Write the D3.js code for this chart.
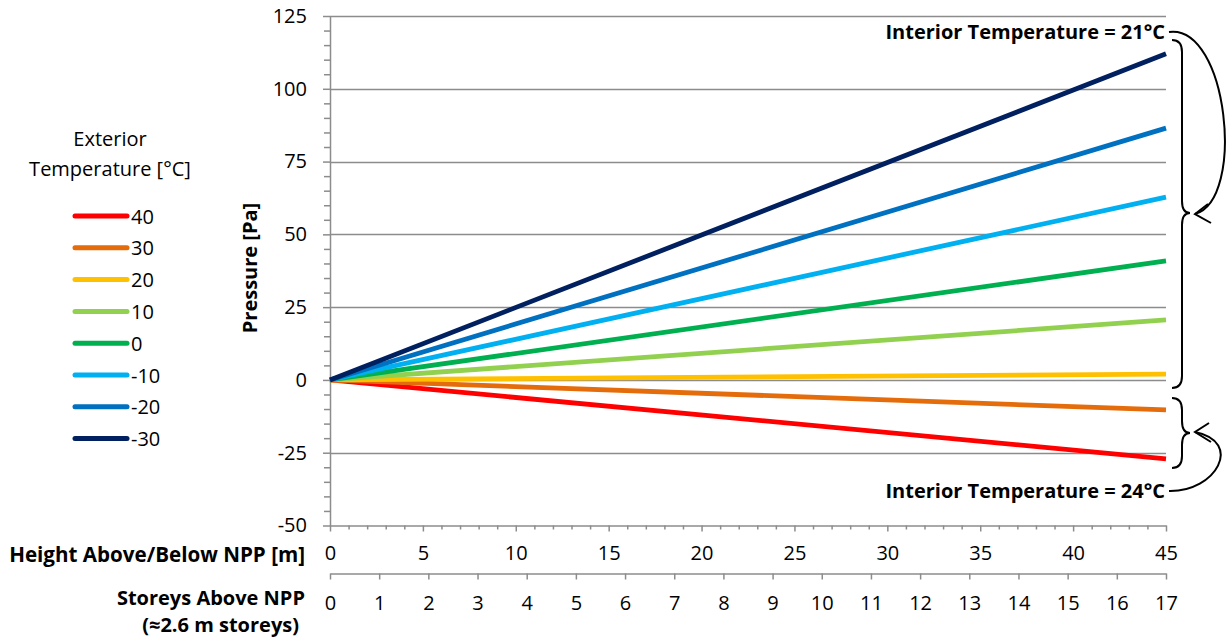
<!DOCTYPE html>
<html>
<head>
<meta charset="utf-8">
<script src="https://cdn.jsdelivr.net/npm/d3@7"></script>
<style>
  body { margin: 0; background: #fff; }
  svg { display: block; }
  text { font-family: "Open Sans", "Noto Sans", sans-serif; fill: #000; }
</style>
</head>
<body>
<svg id="chart" width="1228" height="639"></svg>
<script>
// Stack-effect pressure vs height above the neutral pressure plane (NPP)
const heights = [0, 45];                  // m
const seriesNames = ["40", "30", "20", "10", "0", "-10", "-20", "-30"];
const seriesColors = ["#FF0000", "#E46C0A", "#FFC000", "#92D050", "#00B050", "#00B0F0", "#0070C0", "#002060"];
const pressure40 = [0, -27.1];
const pressure30 = [0, -10.3];
const pressure20 = [0, 2.0];
const pressure10 = [0, 20.6];
const pressure0 = [0, 40.9];
const pressureMinus10 = [0, 62.8];
const pressureMinus20 = [0, 86.5];
const pressureMinus30 = [0, 112.0];
const yTicks = [-50, -25, 0, 25, 50, 75, 100, 125];
const heightTicks = [0, 5, 10, 15, 20, 25, 30, 35, 40, 45];
const storeyTicks = [0, 1, 2, 3, 4, 5, 6, 7, 8, 9, 10, 11, 12, 13, 14, 15, 16, 17];
const legendTitle = ["Exterior", "Temperature [°C]"];
const noteCold = "Interior Temperature = 21°C";
const noteHot = "Interior Temperature = 24°C";

const seriesValues = [pressure40, pressure30, pressure20, pressure10, pressure0,
                      pressureMinus10, pressureMinus20, pressureMinus30];
const series = seriesNames.map((name, i) => ({
  name, color: seriesColors[i],
  points: heights.map((h, j) => ({ h, p: seriesValues[i][j] }))
}));

const svg = d3.select("#chart");
const plot = { left: 330, right: 1166, top: 16, bottom: 525.5 };
const gridColor = "#8c8c8c";
const tickFont = "20px";
const labelFont = "20px";

const x = d3.scaleLinear().domain([0, 45]).range([plot.left, plot.right]);
const xStorey = d3.scaleLinear().domain([0, 17]).range([plot.left, plot.right]);
const y = d3.scaleLinear().domain([-50, 125]).range([plot.bottom, plot.top]);
const plain = d => String(d);   // hyphen-minus for negatives

// horizontal gridlines
svg.append("g")
  .selectAll("line")
  .data(yTicks.filter(v => v !== -50))
  .join("line")
  .attr("x1", plot.left).attr("x2", plot.right)
  .attr("y1", d => Math.round(y(d)) + 0.5).attr("y2", d => Math.round(y(d)) + 0.5)
  .attr("stroke", gridColor).attr("stroke-width", 1.5);

function styleAxis(g) {
  g.selectAll(".domain").attr("stroke", gridColor).attr("stroke-width", 1.5);
  g.selectAll(".tick line").attr("stroke", gridColor).attr("stroke-width", 1.5);
  g.selectAll(".tick text").style("font-size", tickFont).attr("fill", "#000");
}

// y axis: minor ticks every 5 Pa, labelled majors every 25 Pa
const yMinor = d3.range(-50, 126, 5).filter(v => !yTicks.includes(v));
svg.append("g").attr("transform", `translate(${plot.left},0)`)
  .call(d3.axisLeft(y).tickValues(yMinor).tickSize(6).tickFormat(""))
  .call(g => g.select(".domain").remove())
  .call(styleAxis);
svg.append("g").attr("transform", `translate(${plot.left},0)`)
  .call(d3.axisLeft(y).tickValues(yTicks).tickSize(7).tickSizeOuter(0).tickPadding(16).tickFormat(plain))
  .call(styleAxis);

// height axis (bottom of plot): minor every 1 m
const hMinor = d3.range(0, 46, 1).filter(v => !heightTicks.includes(v));
svg.append("g").attr("transform", `translate(0,${plot.bottom})`)
  .call(d3.axisBottom(x).tickValues(hMinor).tickSize(4).tickFormat(""))
  .call(g => g.select(".domain").remove())
  .call(styleAxis);
svg.append("g").attr("transform", `translate(0,${plot.bottom})`)
  .call(d3.axisBottom(x).tickValues(heightTicks).tickSize(6).tickSizeOuter(0).tickPadding(14).tickFormat(plain))
  .call(styleAxis);

// storey axis
svg.append("g").attr("transform", `translate(0,573.5)`)
  .call(d3.axisBottom(xStorey).tickValues(storeyTicks).tickSize(6).tickSizeOuter(0).tickPadding(16).tickFormat(plain))
  .call(styleAxis);

// series lines
const line = d3.line().x(d => x(d.h)).y(d => y(d.p));
svg.append("g")
  .selectAll("path")
  .data(series)
  .join("path")
  .attr("d", d => line(d.points))
  .attr("fill", "none")
  .attr("stroke", d => d.color)
  .attr("stroke-width", 4.8)
  .attr("stroke-linecap", "butt");

// axis titles
svg.append("text")
  .attr("transform", "translate(257,268) rotate(-90)")
  .attr("text-anchor", "middle")
  .style("font-size", labelFont).style("font-weight", "bold")
  .text("Pressure [Pa]");

svg.append("text")
  .attr("x", 305).attr("y", 562)
  .attr("text-anchor", "end")
  .style("font-size", "20.6px").style("font-weight", "bold")
  .text("Height Above/Below NPP [m]");
svg.append("text")
  .attr("x", 305).attr("y", 605)
  .attr("text-anchor", "end")
  .style("font-size", labelFont).style("font-weight", "bold")
  .text("Storeys Above NPP");
svg.append("text")
  .attr("x", 299).attr("y", 632)
  .attr("text-anchor", "end")
  .style("font-size", labelFont).style("font-weight", "bold")
  .text("(≈2.6 m storeys)");

// legend
const legend = svg.append("g");
legend.selectAll("text.title")
  .data(legendTitle)
  .join("text")
  .attr("class", "title")
  .attr("x", 110).attr("y", (d, i) => 146 + i * 30)
  .attr("text-anchor", "middle")
  .style("font-size", "20px")
  .text(d => d);
const legendRow = legend.selectAll("g.row")
  .data(series)
  .join("g")
  .attr("class", "row")
  .attr("transform", (d, i) => `translate(0,${216 + i * 31.8})`);
legendRow.append("line")
  .attr("x1", 75).attr("x2", 127)
  .attr("stroke", d => d.color).attr("stroke-width", 5)
  .attr("stroke-linecap", "round");
legendRow.append("text")
  .attr("x", 131).attr("y", 7.5)
  .style("font-size", tickFont)
  .text(d => d.name);

// annotations
svg.append("text")
  .attr("x", 1165).attr("y", 39)
  .attr("text-anchor", "end")
  .style("font-size", labelFont).style("font-weight", "bold")
  .text(noteCold);
svg.append("text")
  .attr("x", 1165).attr("y", 498)
  .attr("text-anchor", "end")
  .style("font-size", labelFont).style("font-weight", "bold")
  .text(noteHot);

const ann = svg.append("g").attr("fill", "none").attr("stroke", "#000").attr("stroke-width", 2);

function brace(x0, xl, xt, yTop, yMid, yBot) {
  const r = 12;
  return `M${x0},${yTop} Q${xl},${yTop} ${xl},${yTop + r}`
    + ` L${xl},${yMid - r} Q${xl},${yMid} ${xt},${yMid}`
    + ` Q${xl},${yMid} ${xl},${yMid + r}`
    + ` L${xl},${yBot - r} Q${xl},${yBot} ${x0},${yBot}`;
}
ann.append("path").attr("d", brace(1172, 1182, 1190, 40, 213, 388));
ann.append("path").attr("d", brace(1172, 1182, 1190, 398, 433, 468));

// curved pointers from the notes to the braces
ann.append("path").attr("d", "M1169,32 C1228,24 1246,200 1195,214");
ann.append("path").attr("d", "M1208,204 L1195,214 L1211,223");
ann.append("path").attr("d", "M1169,491 C1216,492 1244,442 1195,432");
ann.append("path").attr("d", "M1209,423 L1195,432 L1211,442");
</script>
</body>
</html>
